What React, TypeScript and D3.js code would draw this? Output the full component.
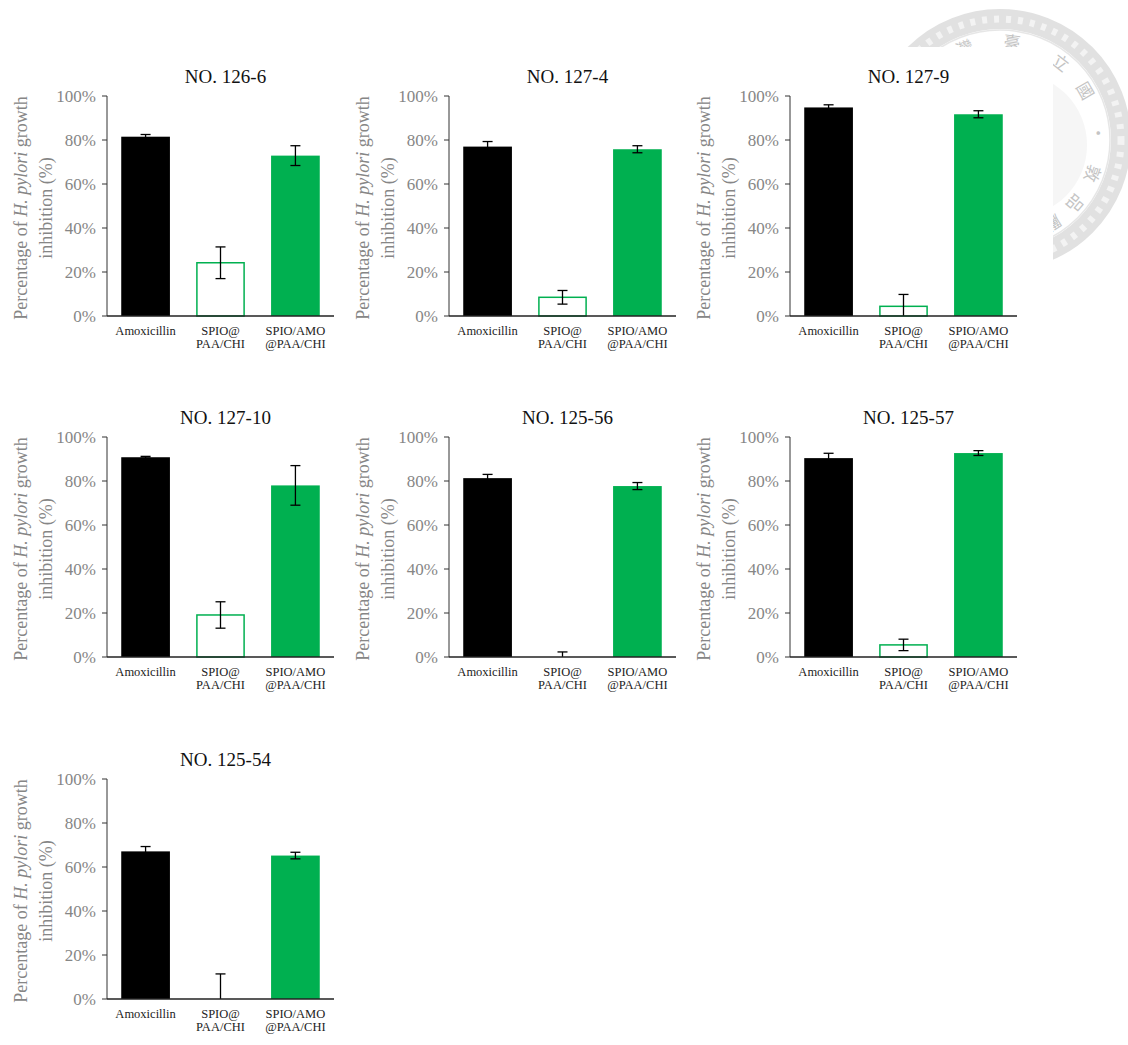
import React from "react";
import * as d3 from "d3";

const categories = ["Amoxicillin", "SPIO@|PAA/CHI", "SPIO/AMO|@PAA/CHI"];
const titles = ["NO. 126-6", "NO. 127-4", "NO. 127-9", "NO. 127-10", "NO. 125-56", "NO. 125-57", "NO. 125-54"];
const amoxValues = [81.5, 77, 94.8, 90.8, 81.3, 90.4, 67.1];
const amoxErrors = [1.0, 2.3, 1.2, 0.4, 1.7, 2.2, 2.2];
const spioValues = [24.2, 8.5, 4.4, 19.1, 0, 5.5, 0];
const spioErrors = [7.2, 3.1, 5.4, 6.0, 2.3, 2.6, 11.4];
const comboValues = [72.9, 75.8, 91.7, 78, 77.7, 92.7, 65.2];
const comboErrors = [4.5, 1.6, 1.6, 9.0, 1.6, 1.1, 1.5];
const yTicks = [0, 20, 40, 60, 80, 100];
const sealChars = ["灣", "臺", "立", "國", "•", "敦", "品", "勵"];
const sealAngles = [-21, 7, 38, 60, 86, 110, 130, 148];

const colX = [107, 449, 790];
const rowY = [96, 437, 779];
const PW = 227;
const PH = 220;
const SERIF = "Liberation Serif, Times New Roman, Times, serif";
const GREEN = "#00b050";
const GREY = "#868686";

function Panel({ idx }: { idx: number }) {
  const x0 = colX[idx % 3];
  const y0 = rowY[Math.floor(idx / 3)];
  const x = d3.scaleBand<string>().domain(categories).range([0, PW]).paddingInner(0.35).paddingOuter(0.19);
  const y = d3.scaleLinear().domain([0, 100]).range([PH, 0]);
  const vals = [amoxValues[idx], spioValues[idx], comboValues[idx]];
  const errs = [amoxErrors[idx], spioErrors[idx], comboErrors[idx]];
  const bw = x.bandwidth();
  return (
    <g transform={`translate(${x0},${y0})`} style={{ fontFamily: SERIF }}>
      <text x={PW / 2 + 5} y={-13} textAnchor="middle" fontSize={19} fill="#111">
        {titles[idx]}
      </text>
      <g transform={`translate(-80,${PH / 2 + 2}) rotate(-90)`}>
        <text x={0} y={0} textAnchor="middle" fontSize={18} fill={GREY}>
          Percentage of <tspan fontStyle="italic">H. pylori</tspan> growth
        </text>
        <text x={0} y={25} textAnchor="middle" fontSize={18} fill={GREY}>
          inhibition (%)
        </text>
      </g>
      {yTicks.map((t) => (
        <g key={t}>
          <line x1={-5} x2={0} y1={y(t)} y2={y(t)} stroke="#333" strokeWidth={1} />
          <text x={-11} y={y(t)} dy="0.35em" textAnchor="end" fontSize={17} fill={GREY}>
            {t}%
          </text>
        </g>
      ))}
      {vals.map((v, i) => {
        const bx = x(categories[i])!;
        const fill = i === 0 ? "#000" : i === 1 ? "#fff" : GREEN;
        const stroke = i === 1 ? GREEN : "none";
        const h = PH - y(v);
        return h > 0 ? (
          <rect
            key={i}
            x={i === 1 ? bx + 0.75 : bx}
            y={y(v)}
            width={i === 1 ? bw - 1.5 : bw}
            height={h}
            fill={fill}
            stroke={stroke}
            strokeWidth={1.5}
          />
        ) : null;
      })}
      {vals.map((v, i) => {
        const cx = x(categories[i])! + bw / 2;
        const top = y(v + errs[i]);
        const bot = y(Math.max(0, v - errs[i]));
        return (
          <g key={`e${i}`} stroke="#000" strokeWidth={1.3}>
            <line x1={cx} x2={cx} y1={top} y2={bot} />
            <line x1={cx - 5} x2={cx + 5} y1={top} y2={top} />
            {v - errs[i] > 0 && <line x1={cx - 5} x2={cx + 5} y1={bot} y2={bot} />}
          </g>
        );
      })}
      <line x1={0} x2={0} y1={0} y2={PH} stroke="#333" strokeWidth={1} />
      <line x1={0} x2={PW} y1={PH} y2={PH} stroke="#222" strokeWidth={1.3} />
      {categories.map((c, i) => {
        const cx = x(c)! + bw / 2;
        const lines = c.split("|");
        return (
          <text key={c} textAnchor="middle" fontSize={12.5} fill="#222">
            {lines.map((l, j) => (
              <tspan key={j} x={cx} y={PH + 19 + j * 13}>
                {l}
              </tspan>
            ))}
          </text>
        );
      })}
    </g>
  );
}

export default function App() {
  const sc = { x: 1000, y: 140 };
  return (
    <svg width={1128} height={1045} style={{ position: "absolute", left: 0, top: 0 }}>
      <rect width={1128} height={1045} fill="#fff" />
      <g opacity={0.5}>
        <circle cx={sc.x} cy={sc.y} r={121} fill="none" stroke="#c4c4c4" strokeWidth={20} />
        <circle cx={sc.x} cy={sc.y} r={121} fill="none" stroke="#e8e8e8" strokeWidth={7} strokeDasharray="5 7" />
        <circle cx={sc.x} cy={sc.y} r={110} fill="none" stroke="#cfcfcf" strokeWidth={1.5} />
        <circle cx={sc.x + 15} cy={sc.y + 5} r={72} fill="#eeeeee" />
        {sealChars.map((ch, i) => {
          const a = sealAngles[i];
          const r = 98;
          const rad = (a * Math.PI) / 180;
          const px = sc.x + r * Math.sin(rad);
          const py = sc.y - r * Math.cos(rad);
          return (
            <text
              key={i}
              x={px}
              y={py}
              dy="0.35em"
              textAnchor="middle"
              fontFamily="Noto Sans CJK TC, sans-serif"
              fontSize={17}
              fill="#8a8a8a"
              transform={`rotate(${a},${px},${py})`}
            >
              {ch}
            </text>
          );
        })}
      </g>
      <rect x={700} y={47} width={353} height={300} fill="#fff" />
      {titles.map((_, i) => (
        <Panel key={i} idx={i} />
      ))}
    </svg>
  );
}
